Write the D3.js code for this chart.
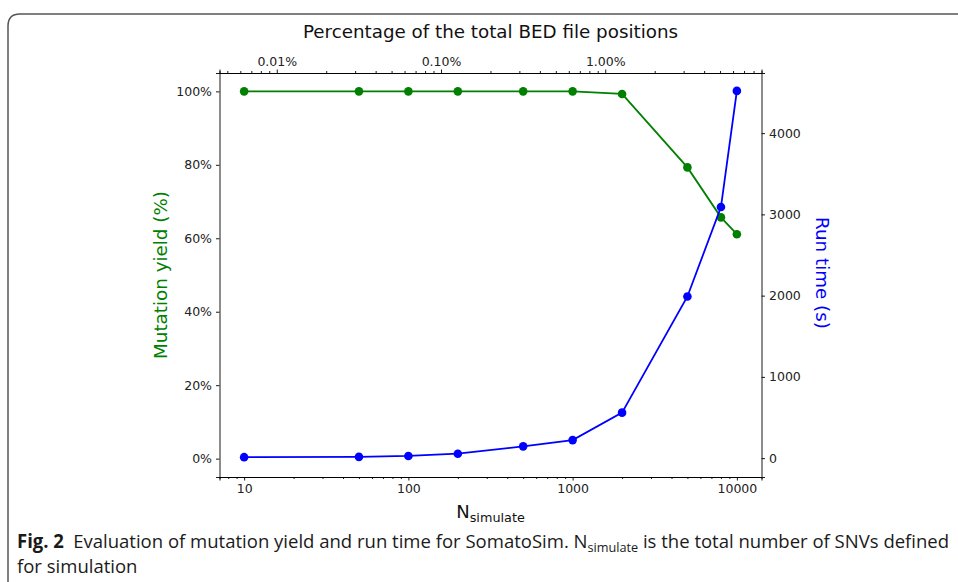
<!DOCTYPE html>
<html>
<head>
<meta charset="utf-8">
<script src="https://cdn.jsdelivr.net/npm/d3@7"></script>
<style>
  body { margin: 0; background: #fff; }
  svg { display: block; }
  .tick text { font-family: "DejaVu Sans", sans-serif; font-size: 12.5px; fill: #222; }
  .tick line, .domain { stroke: #000; stroke-width: 0.9; }
</style>
</head>
<body>
<svg id="chart" width="958" height="582"></svg>
<script>
// N_simulate values on the bottom log axis
const nSimulate = [10, 50, 100, 200, 500, 1000, 2000, 5000, 8000, 10000];
// mutation yield in percent (left axis, green)
const yieldPct = [100, 100, 100, 100, 100, 100, 99.3, 79.3, 65.7, 61.1];
// run time in seconds (right axis, blue)
const runTime = [12, 16, 27, 55, 145, 222, 560, 1990, 3090, 4520];
// total positions in the BED file, used by the top percentage axis
const totalBed = 158000;
const topTicks = [0.01, 0.1, 1];
const bottomTicks = [10, 100, 1000, 10000];
const leftTicks = [0, 20, 40, 60, 80, 100];
const rightTicks = [0, 1000, 2000, 3000, 4000];

const svg = d3.select('#chart');
const plot = { left: 219.5, right: 761.5, top: 73, bottom: 477 };

// frame of the figure box
svg.append('path')
  .attr('d', `M8,582 L8,26 Q8,14 20,14 L960,14`)
  .attr('fill', 'none')
  .attr('stroke', '#555')
  .attr('stroke-width', 1.5);

const x = d3.scaleLog()
  .domain([Math.pow(10, 0.85), Math.pow(10, 4.15)])
  .range([plot.left, plot.right]);
const xTop = d3.scaleLog()
  .domain(x.domain().map(n => n / totalBed * 100))
  .range([plot.left, plot.right]);
const yLeft = d3.scaleLinear().domain([-5, 105]).range([plot.bottom, plot.top]);
const yRight = d3.scaleLinear().domain([-232, 4740]).range([plot.bottom, plot.top]);

// minor tick helpers for log axes
function minorTicks(scale) {
  const [a, b] = scale.domain();
  const out = [];
  for (let e = Math.floor(Math.log10(a)); e <= Math.ceil(Math.log10(b)); e++) {
    for (let m = 2; m <= 9; m++) {
      const v = m * Math.pow(10, e);
      if (v >= a && v <= b) out.push(v);
    }
  }
  return out;
}

// BOTTOM AXIS
svg.append('g')
  .attr('transform', `translate(0, ${plot.bottom})`)
  .call(d3.axisBottom(x).tickValues(minorTicks(x)).tickSize(2).tickFormat(''));
svg.append('g')
  .attr('transform', `translate(0, ${plot.bottom})`)
  .call(d3.axisBottom(x).tickValues(bottomTicks).tickSize(3.5).tickPadding(4).tickFormat(d3.format('d')));

// TOP AXIS
svg.append('g')
  .attr('transform', `translate(0, ${plot.top})`)
  .call(d3.axisTop(xTop).tickValues(minorTicks(xTop)).tickSize(2).tickFormat(''));
svg.append('g')
  .attr('transform', `translate(0, ${plot.top})`)
  .call(d3.axisTop(xTop).tickValues(topTicks).tickSize(3.5).tickPadding(4).tickFormat(d => d.toFixed(2) + '%'));

// LEFT AXIS
svg.append('g')
  .attr('transform', `translate(${plot.left}, 0)`)
  .call(d3.axisLeft(yLeft).tickValues(leftTicks).tickSize(3.5).tickPadding(4).tickFormat(d => d + '%'));

// RIGHT AXIS
svg.append('g')
  .attr('transform', `translate(${plot.right}, 0)`)
  .call(d3.axisRight(yRight).tickValues(rightTicks).tickSize(3.5).tickPadding(4).tickFormat(d3.format('d')));

svg.selectAll('.domain').attr('stroke-width', 0.9);

// SERIES
const series = [
  { values: yieldPct, scale: yLeft, color: '#008000' },
  { values: runTime, scale: yRight, color: '#0000ff' },
];
series.forEach(s => {
  const pts = nSimulate.map((n, i) => [x(n), s.scale(s.values[i])]);
  svg.append('path')
    .attr('d', d3.line()(pts))
    .attr('fill', 'none')
    .attr('stroke', s.color)
    .attr('stroke-width', 1.8);
  svg.append('g').selectAll('circle')
    .data(pts)
    .join('circle')
    .attr('cx', d => d[0])
    .attr('cy', d => d[1])
    .attr('r', 4.3)
    .attr('fill', s.color);
});

// AXIS TITLES
const labelFont = '"DejaVu Sans", sans-serif';
svg.append('text')
  .attr('x', (plot.left + plot.right) / 2)
  .attr('y', 38)
  .attr('text-anchor', 'middle')
  .attr('font-family', labelFont)
  .attr('font-size', 18.3)
  .attr('fill', '#111')
  .text('Percentage of the total BED file positions');

svg.append('text')
  .attr('transform', `translate(167, ${(plot.top + plot.bottom) / 2}) rotate(-90)`)
  .attr('text-anchor', 'middle')
  .attr('font-family', labelFont)
  .attr('font-size', 18.3)
  .attr('fill', '#008000')
  .text('Mutation yield (%)');

svg.append('text')
  .attr('transform', `translate(816, ${(plot.top + plot.bottom) / 2 - 2}) rotate(90)`)
  .attr('text-anchor', 'middle')
  .attr('font-family', labelFont)
  .attr('font-size', 18.3)
  .attr('fill', '#0000ff')
  .text('Run time (s)');

const xl = svg.append('text')
  .attr('x', (plot.left + plot.right) / 2)
  .attr('y', 518)
  .attr('text-anchor', 'middle')
  .attr('font-family', labelFont)
  .attr('font-size', 18)
  .attr('fill', '#111');
xl.append('tspan').text('N');
xl.append('tspan').attr('font-size', 12.8).attr('dy', 4).text('simulate');

// CAPTION
const capFont = '"Liberation Sans Narrow", "Open Sans", sans-serif';
const cap1 = svg.append('text')
  .attr('y', 548)
  .attr('font-family', capFont)
  .attr('font-size', 19)
  .attr('fill', '#1a1a1a');
cap1.append('tspan').attr('font-weight', 'bold').text('Fig. 2');
cap1.append('tspan').text('\u2002Evaluation of mutation yield and run time for SomatoSim. N');
cap1.append('tspan').attr('font-size', 13).attr('dy', 4).text('simulate');
cap1.append('tspan').attr('dy', -4).text(' is the total number of SNVs defined');

const w1 = cap1.node().getComputedTextLength();
const k = 933 / w1;
cap1.attr('transform', `translate(17, 0) scale(${k}, 1)`);

svg.append('text')
  .attr('y', 573)
  .attr('font-family', capFont)
  .attr('font-size', 19)
  .attr('fill', '#1a1a1a')
  .attr('transform', `translate(17, 0) scale(${k}, 1)`)
  .text('for simulation');
</script>
</body>
</html>
